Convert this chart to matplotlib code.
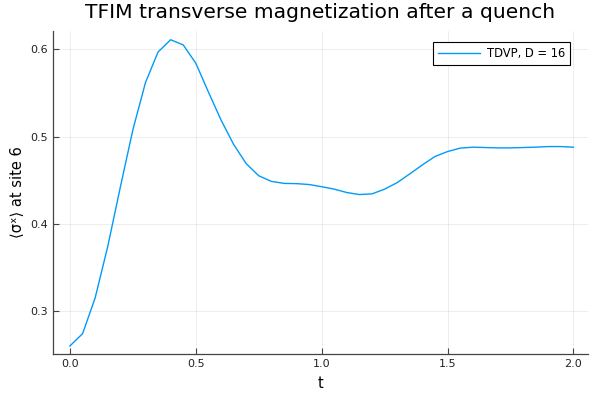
import matplotlib
matplotlib.use("Agg")
import matplotlib.pyplot as plt

plt.rcParams['font.family'] = ['DejaVu Sans', 'Noto Sans', 'Noto Sans CJK SC']

# time grid and magnetization
t = [0.0, 0.05, 0.1, 0.15, 0.2, 0.25, 0.3, 0.35, 0.4, 0.45,
     0.5, 0.55, 0.6, 0.65, 0.7, 0.75, 0.8, 0.85, 0.9, 0.95,
     1.0, 1.05, 1.1, 1.15, 1.2, 1.25, 1.3, 1.35, 1.4, 1.45,
     1.5, 1.55, 1.6, 1.65, 1.7, 1.75, 1.8, 1.85, 1.9, 1.95, 2.0]
sx = [0.260, 0.274, 0.315, 0.374, 0.442, 0.508, 0.562, 0.597, 0.611, 0.605,
      0.584, 0.551, 0.519, 0.491, 0.469, 0.455, 0.4486, 0.4463, 0.446, 0.445,
      0.4425, 0.4397, 0.4358, 0.4335, 0.4343, 0.4397, 0.4472, 0.4572, 0.4675, 0.4771,
      0.4828, 0.4867, 0.4878, 0.4874, 0.4870, 0.4870, 0.4874, 0.4878, 0.4885, 0.4885, 0.4878]

xticks = [0.0, 0.5, 1.0, 1.5, 2.0]
yticks = [0.3, 0.4, 0.5, 0.6]

fig = plt.figure(figsize=(6, 4), dpi=100)
ax = fig.add_axes([53/600, 1 - 354/400, 535/600, 323/400])

ax.plot(t, sx, color="#009AFA", linewidth=1.0, label="TDVP, D = 16")

ax.set_xlim(-0.0675, 2.058)
ax.set_ylim(0.2507, 0.621)
ax.set_xticks(xticks)
ax.set_xticklabels([f"{v:.1f}" for v in xticks])
ax.set_yticks(yticks)
ax.set_yticklabels([f"{v:.1f}" for v in yticks])

ax.grid(True, color="black", alpha=0.08, linewidth=0.6)
for side in ["top", "right"]:
    ax.spines[side].set_visible(False)
for side in ["left", "bottom"]:
    ax.spines[side].set_color("#444444")
    ax.spines[side].set_linewidth(0.9)
ax.tick_params(direction="in", length=4, width=0.8, colors="#444444",
               labelcolor="#222222", labelsize=8)

ax.set_title("TFIM transverse magnetization after a quench", fontsize=14.6, pad=9)
ax.set_xlabel("t", fontsize=10.5, labelpad=5.5)
ax.set_ylabel("⟨σˣ⟩ at site 6", fontsize=10.5)

leg = ax.legend(loc="upper right", bbox_to_anchor=(570/600, 1 - 41.7/400),
                bbox_transform=fig.transFigure, borderaxespad=0,
                fontsize=8.3, frameon=True, fancybox=False,
                edgecolor="black", framealpha=1, handlelength=3.6,
                handletextpad=0.6, borderpad=0.45)
leg.get_frame().set_linewidth(0.8)

fig.savefig("out.png", dpi=100)
